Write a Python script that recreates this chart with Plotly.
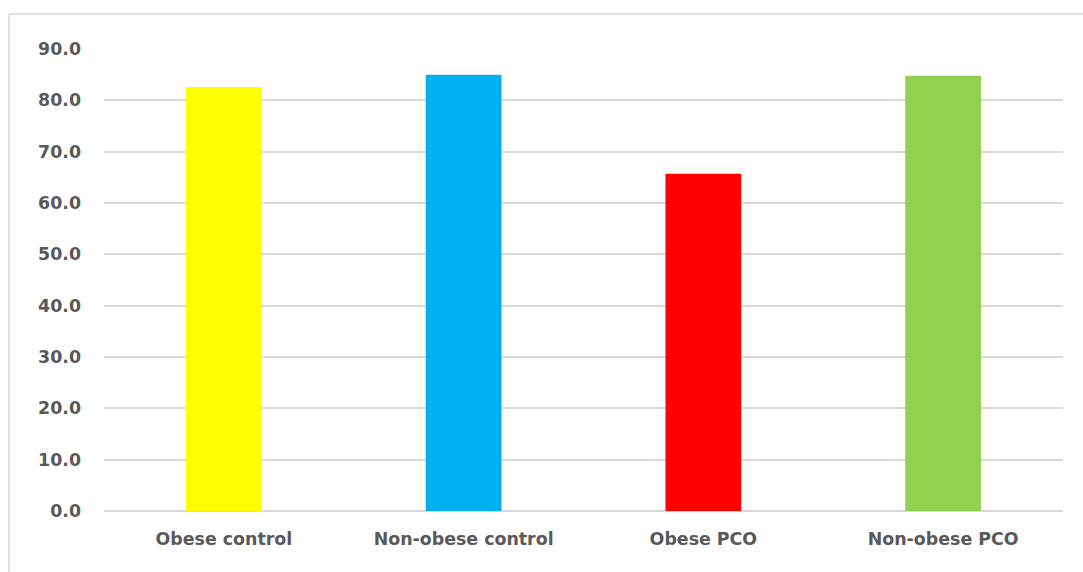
import plotly.graph_objects as go

categories = ["Obese control", "Non-obese control", "Obese PCO", "Non-obese PCO"]
values = [82.6, 85.0, 65.7, 84.8]
bar_colors = ["#FFFF00", "#00B0F0", "#FF0000", "#92D050"]
y_ticks = [0, 10, 20, 30, 40, 50, 60, 70, 80, 90]

W, H = 1083, 572
ml, mr, mt, mb = 104, 20, 49, 61
pw = W - ml - mr
ph = H - mt - mb

fig = go.Figure(
    go.Bar(
        x=categories,
        y=values,
        marker=dict(color=bar_colors, line=dict(width=0)),
        width=0.316,
        hoverinfo="x+y",
    )
)

tick_font = dict(family="DejaVu Sans", size=17.4, color="#595959", weight="bold")

fig.update_layout(
    width=W,
    height=H,
    margin=dict(l=ml, r=mr, t=mt, b=mb),
    paper_bgcolor="white",
    plot_bgcolor="white",
    showlegend=False,
    xaxis=dict(
        showgrid=False,
        showline=False,
        ticks="",
        ticklabelstandoff=16,
        tickfont=tick_font,
    ),
    yaxis=dict(
        range=[0, 90],
        tickvals=y_ticks,
        ticktext=[f"{v:.1f}" for v in y_ticks],
        showgrid=True,
        gridcolor="#D9D9D9",
        gridwidth=1.5,
        zeroline=True,
        zerolinecolor="#D9D9D9",
        zerolinewidth=1.5,
        showline=False,
        ticks="",
        ticklabelstandoff=22,
        tickfont=tick_font,
    ),
)

# chart frame
fig.add_shape(
    type="rect",
    xref="paper", yref="paper",
    x0=(9 - ml) / pw, x1=(W + 10 - ml) / pw,
    y0=-(mb + 10) / ph, y1=(H - mb - 14) / ph,
    line=dict(color="#D9D9D9", width=1.5),
    fillcolor="rgba(0,0,0,0)",
    layer="below",
)

fig.write_html("out.html")
